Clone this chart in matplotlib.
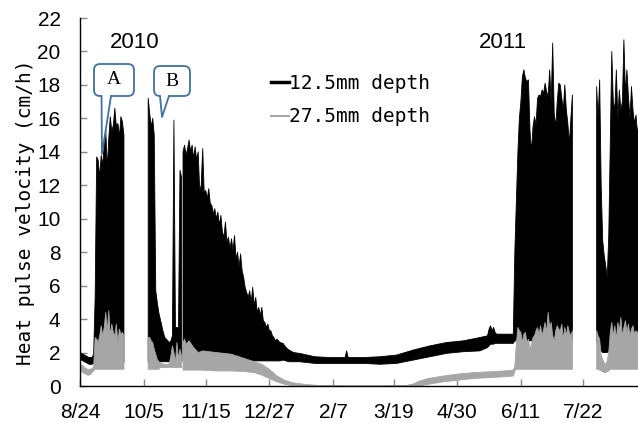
import numpy as np
import pandas as pd
import matplotlib
matplotlib.use("Agg")
import matplotlib.pyplot as plt
from matplotlib.patches import FancyBboxPatch, Polygon
from matplotlib.lines import Line2D
from matplotlib.transforms import Affine2D

plt.rcParams['font.family'] = ['Liberation Sans', 'DejaVu Sans']

# ---------------- data (day offsets from 2010-08-24) ----------------
start_date = "2010-08-24"
nan = np.nan

# 12.5 mm depth: daily maximum / minimum heat pulse velocity (cm/h)
day12 = ([0, 1, 2, 3, 4, 5, 6, 7, 8, 9] + list(range(10, 30)) + [37]
         + list(range(45, 68)) + [67.5]
         + list(range(68, 133)) + [134, 136, 138, 141, 145, 155, 165, 175, 176, 177,
                                   187, 198, 209, 220, 231, 242, 253, 264,
                                   269, 270, 271, 272, 273, 274, 275, 277, 286]
         + list(range(287, 326)) + [333]
         + list(range(341, 370)))
hi12 = ([2.0, 1.95, 1.9, 1.85, 1.8, 1.75, 1.7, 1.7, 1.7, 1.9,
         5.3, 13.7, 13.5, 12.5, 13.8, 13.2, 14.5, 15.3, 13.0, 14.8,
         16.1, 15.2, 15.6, 16.6, 15.5, 15.7, 14.9, 16.1, 15.8, 15.0, nan,
         17.2, 16.3, 15.5, 16.0, 15.0, 5.7, 5.0, 4.4, 4.0, 3.6, 3.2, 2.9,
         2.8, 2.7, 2.6, 2.7, 3.0, 15.9, 3.5, 3.5, 3.5, 12.9, 12.5, nan,
         14.0, 14.4, 13.8, 14.2, 14.7, 14.0, 14.4, 13.6, 14.3, 13.5, 14.0,
         11.7, 12.0, 14.2, 11.5, 11.7, 11.2, 11.8, 10.9, 10.8, 10.3, 10.6,
         10.0, 10.4, 9.6, 10.2, 9.2, 8.9, 9.8, 8.6, 8.9, 8.2, 8.8, 8.1,
         9.0, 7.6, 8.0, 7.1, 7.9, 6.9, 6.5, 5.9, 5.6, 5.3, 5.7, 5.0, 5.9,
         4.8, 5.3, 4.4, 4.7, 4.2, 4.7, 3.9, 3.8, 3.5, 3.7, 3.3, 3.3, 3.0,
         2.9, 2.7, 2.8, 2.7, 2.6,
         2.55, 2.3, 2.15, 2.0, 1.95, 1.75, 1.7, 1.7, 2.1, 1.7,
         1.7, 1.75, 1.85, 2.15, 2.4, 2.6, 2.7, 2.9,
         3.0, 3.4, 3.6, 3.3, 3.5, 3.2, 3.1, 3.1, 3.1,
         8.0, 11.0, 13.9, 16.0, 17.0, 18.5, 18.9, 18.4, 18.2, 18.3, 15.3,
         14.0, 15.5, 16.1, 15.6, 17.2, 17.4, 17.3, 17.7, 17.5, 18.1, 17.6,
         17.3, 18.9, 17.0, 20.5, 16.3, 15.5, 17.0, 18.1, 18.0, 17.2, 16.5,
         18.0, 16.5, 15.7, 14.5, 16.0, 17.4, nan,
         17.9, 16.0, 18.3, 12.0, 8.7, 7.8, 7.2, 6.5, 9.0, 14.5, 20.0, 17.0,
         16.5, 18.9, 16.0, 17.7, 16.5, 17.0, 20.7, 17.5, 18.9, 17.3, 16.0,
         17.9, 16.5, 15.7, 16.2, 15.0, 16.0])
lo12 = ([1.6, 1.55, 1.5, 1.45, 1.4, 1.35, 1.3, 1.3, 1.3, 1.35] + [1.4] * 20 + [nan]
        + [1.45] * 23 + [nan]
        + [1.5] * 65 + [1.55, 1.5, 1.45, 1.45, 1.45, 1.35, 1.35, 1.35, 1.35, 1.35,
                        1.35, 1.3, 1.35, 1.55, 1.75, 1.95, 2.05, 2.1,
                        2.3, 2.4, 2.5, 2.5, 2.5, 2.55, 2.55, 2.55, 2.55]
        + [2.7] * 39 + [nan]
        + [2.6, 2.6, 2.5, 2.1, 2.0, 2.0, 2.0, 2.0, 2.1] + [2.6] * 20)

# 27.5 mm depth: daily maximum / minimum heat pulse velocity (cm/h)
day27 = ([0, 1, 2, 3, 4, 5, 6, 7, 8, 9] + list(range(10, 30)) + [37]
         + list(range(45, 68)) + [67.5]
         + [68, 69, 70, 72, 75, 78, 81, 90, 100, 110, 115, 120, 125, 130, 135, 140,
            150, 160, 175, 200, 215, 220, 224, 230, 240, 250, 260, 270, 280, 286]
         + list(range(287, 326)) + [333]
         + list(range(341, 370)))
hi27 = ([1.3, 1.25, 1.2, 1.1, 1.05, 1.0, 1.0, 1.0, 1.05, 1.15,
         2.9, 2.8, 2.6, 3.0, 3.6, 3.0, 3.5, 4.4, 3.3, 4.5,
         3.0, 3.7, 3.2, 3.0, 3.7, 2.6, 3.4, 3.1, 3.2, 3.0, nan,
         2.9, 2.9, 2.7, 2.6, 2.2, 1.9, 1.6, 1.45, 1.4, 1.35, 1.3, 1.3,
         1.3, 1.3, 1.35, 1.8, 2.4, 2.0, 1.4, 2.6, 1.6, 2.2, 1.8, nan,
         2.6, 2.8, 2.5, 2.7, 2.3, 2.0, 2.1, 2.0, 1.9, 1.6, 1.45, 1.3, 1.0,
         0.6, 0.35, 0.2, 0.08, 0.02, 0.0, 0.0, 0.02, 0.12, 0.3, 0.45,
         0.6, 0.72, 0.8, 0.85, 0.9, 0.95,
         1.2, 2.5, 3.5, 3.3, 3.2, 2.6, 3.1, 3.2, 2.6, 2.8, 2.2, 2.5, 2.9,
         3.0, 3.3, 3.5, 3.1, 3.6, 3.0, 3.4, 3.8, 3.2, 4.4, 3.5, 3.8, 3.0,
         2.7, 3.3, 3.6, 3.4, 3.3, 3.7, 2.8, 3.5, 3.0, 3.6, 3.2, 3.0, 3.3, nan,
         3.3, 3.0, 2.8, 1.8, 1.6, 1.4, 1.3, 1.5, 2.0, 3.2, 3.8, 3.0, 3.6,
         2.8, 3.8, 3.3, 4.1, 3.0, 3.5, 3.9, 3.2, 3.7, 3.0, 3.4, 3.6, 3.1,
         3.3, 3.2, 3.3])
lo27 = ([0.9, 0.85, 0.8, 0.75, 0.7, 0.65, 0.65, 0.7, 0.8, 0.9] + [1.0] * 20 + [nan]
        + [1.0] * 8 + [1.1] * 15 + [nan]
        + [0.95, 0.95, 0.95, 0.95, 0.95, 0.95, 0.95, 0.9, 0.9, 0.85, 0.8, 0.65,
           0.45, 0.25, 0.1, 0.03, 0.0, 0.0, 0.0, 0.0, 0.0, 0.0, 0.0, 0.1,
           0.25, 0.35, 0.45, 0.5, 0.55, 0.6]
        + [0.9] + [1.0] * 38 + [nan]
        + [1.0, 1.0, 0.95, 0.9, 0.85, 0.8, 0.8, 0.85, 0.9] + [1.0] * 20)

tick_dates = ["2010-08-24", "2010-10-05", "2010-11-15", "2010-12-27", "2011-02-07",
              "2011-03-19", "2011-04-30", "2011-06-11", "2011-07-22"]
tick_labels = ["8/24", "10/5", "11/15", "12/27", "2/7", "3/19", "4/30", "6/11", "7/22"]
series_labels = ["12.5mm depth", "27.5mm depth"]
year_labels = ["2010", "2011"]
callout_labels = ["A", "B"]

# ---------------- figure ----------------
W, H = 638, 423
fig = plt.figure(figsize=(W / 100, H / 100), dpi=100)
ax = fig.add_axes([80 / W, 1 - 386 / H, (W - 80) / W, (386 - 18) / H])
pxT = Affine2D().scale(1 / W, -1 / H).translate(0, 1) + fig.transFigure

BLACK = "#000000"
GRAY = "#a6a6a6"
BLUE = "#41719c"

d12 = np.array(day12, float)
d27 = np.array(day27, float)
ax.fill_between(d12, np.array(lo12, float), np.array(hi12, float),
                facecolor=BLACK, edgecolor=BLACK, linewidth=0.6, zorder=2)
ax.fill_between(d27, np.array(lo27, float), np.array(hi27, float),
                facecolor=GRAY, edgecolor=GRAY, linewidth=0.6, zorder=3)

tick_days = (pd.to_datetime(tick_dates) - pd.Timestamp(start_date)).days
ax.set_xlim(0, 368.3)
ax.set_ylim(0, 22)
ax.set_xticks(tick_days)
ax.set_xticklabels(tick_labels)
ax.set_yticks(np.arange(0, 23, 2))
for s in ["top", "right"]:
    ax.spines[s].set_visible(False)
for s in ["left", "bottom"]:
    ax.spines[s].set_color("black")
    ax.spines[s].set_linewidth(1.0)
    ax.spines[s].set_zorder(5)
ax.tick_params(direction="in", length=5, width=1, color="#888888", labelsize=15)
ax.tick_params(axis="y", pad=14)
ax.tick_params(axis="x", pad=12)

ax.set_ylabel("Heat pulse velocity (cm/h)", fontfamily="DejaVu Sans Mono", fontsize=14)
ax.yaxis.set_label_coords(-0.081, 0.473)

handles = [Line2D([], [], color=BLACK, lw=2.5), Line2D([], [], color=GRAY, lw=1.5)]
leg = ax.legend(handles, series_labels, loc="upper left",
                bbox_to_anchor=(271, 74), bbox_transform=pxT,
                frameon=False, borderpad=0, borderaxespad=0,
                handlelength=0.9, handletextpad=0.05, labelspacing=0.74,
                prop={"family": "DejaVu Sans Mono", "size": 14})

# year labels
fig.text(135, 43, year_labels[0], transform=pxT, ha="center", va="center", fontsize=16)
fig.text(503, 43, year_labels[1], transform=pxT, ha="center", va="center", fontsize=16)

# callouts
def callout(x0, y0, x1, y1, base0, base1, tip, label):
    box = FancyBboxPatch((x0, y0), x1 - x0, y1 - y0,
                         boxstyle="round,pad=0,rounding_size=6",
                         transform=pxT, facecolor="white", edgecolor=BLUE, lw=1.3)
    fig.add_artist(box)
    cover = Polygon([(base0, y1 - 2), (base0, y1), tip, (base1, y1), (base1, y1 - 2)],
                    closed=True, transform=pxT, facecolor="white", edgecolor="none")
    fig.add_artist(cover)
    fig.add_artist(Line2D([base0, tip[0], base1], [y1, tip[1], y1], transform=pxT,
                          color=BLUE, lw=1.3))
    fig.text((x0 + x1) / 2, (y0 + y1) / 2, label, transform=pxT, ha="center",
             va="center", fontsize=14, fontfamily="Liberation Serif")

callout(94, 64, 134, 96, 101.5, 111, (102, 154), callout_labels[0])
callout(154, 66, 190, 96, 160, 169, (162, 117), callout_labels[1])

fig.savefig("out.png", dpi=100)
